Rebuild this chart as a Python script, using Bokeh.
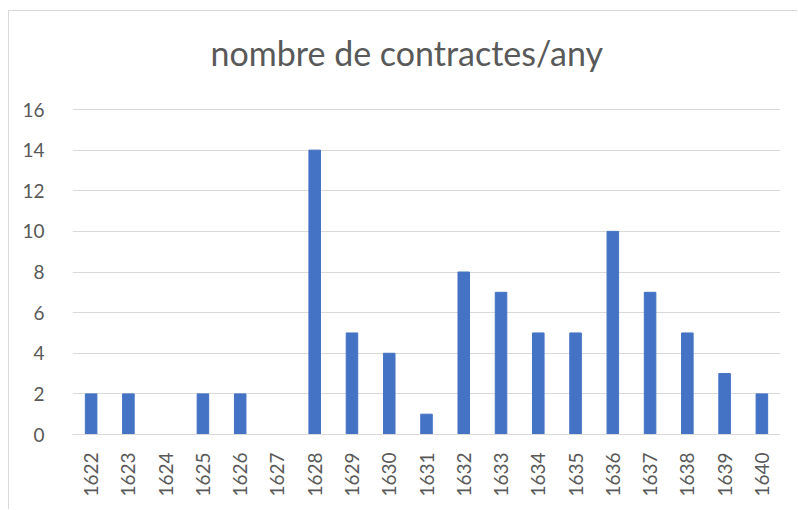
from bokeh.plotting import figure
from bokeh.models import FactorRange, FixedTicker, Label
from bokeh.embed import file_html
from bokeh.resources import INLINE
import math

years = ["1622", "1623", "1624", "1625", "1626", "1627", "1628", "1629", "1630", "1631",
         "1632", "1633", "1634", "1635", "1636", "1637", "1638", "1639", "1640"]
counts = [2, 2, 0, 2, 2, 0, 14, 5, 4, 1, 8, 7, 5, 5, 10, 7, 5, 3, 2]
y_ticks = [0, 2, 4, 6, 8, 10, 12, 14, 16]
title_text = "nombre de contractes/any"

FONT = "Lato"
TXT = "#595959"
GRID = "#d9d9d9"

# the frame is extended upward (no outline, no axis line) so the title sits inside it
p = figure(width=789, height=499, x_range=FactorRange(*years, range_padding=0),
           y_range=(0, 20.48), output_backend="svg", toolbar_location=None,
           min_border_left=63, min_border_right=18, min_border_top=7, min_border_bottom=76)
p.styles = {"border-left": f"1px solid {GRID}", "border-top": f"1px solid {GRID}",
            "margin-left": "8px", "margin-top": "10px"}

p.vbar(x=years, top=counts, width=0.31, color="#4472C4")

title = Label(x=8.97, y=18.8, text=title_text, text_align="center",
              text_baseline="alphabetic", text_font=FONT, text_font_size="34px",
              text_color=TXT)
p.add_layout(title)

p.outline_line_color = None
p.xgrid.grid_line_color = None
p.ygrid.grid_line_color = GRID
p.ygrid.ticker = FixedTicker(ticks=y_ticks)

p.yaxis.ticker = FixedTicker(ticks=y_ticks)
p.yaxis.axis_line_color = None
p.yaxis.major_tick_line_color = None
p.yaxis.minor_tick_line_color = None
p.yaxis.major_label_text_font = FONT
p.yaxis.major_label_text_font_size = "19px"
p.yaxis.major_label_text_color = TXT
p.yaxis.major_label_standoff = 22

p.xaxis.axis_line_color = GRID
p.xaxis.major_tick_line_color = None
p.xaxis.minor_tick_line_color = None
p.xaxis.major_label_orientation = math.pi / 2
p.xaxis.major_label_text_font = FONT
p.xaxis.major_label_text_font_size = "19px"
p.xaxis.major_label_text_color = TXT
p.xaxis.major_label_standoff = 12

open("out.html", "w").write(file_html(p, INLINE))
